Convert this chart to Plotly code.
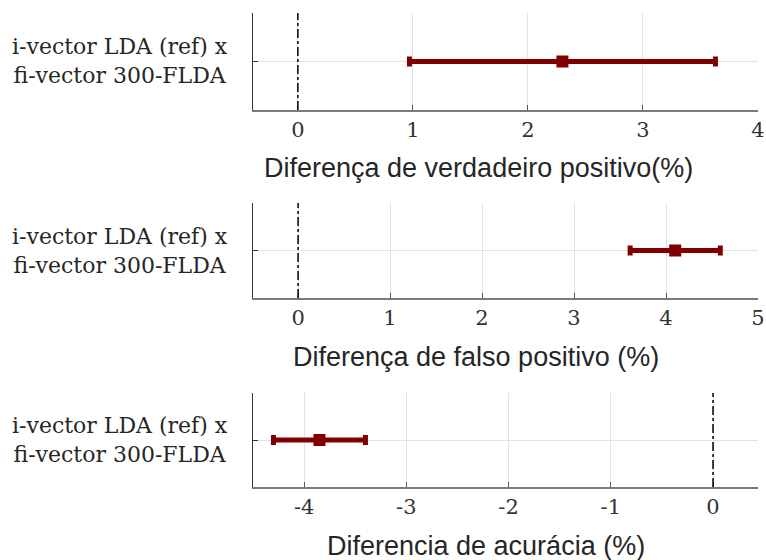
import plotly.graph_objects as go

category = ["i-vector LDA (ref) x<br>fi-vector 300-FLDA"]
titles = ["Diferença de verdadeiro positivo(%)", "Diferença de falso positivo (%)", "Diferencia de acurácia (%)"]
centers = [2.30, 4.10, -3.85]
lows = [0.97, 3.61, -4.30]
highs = [3.63, 4.59, -3.40]
x_ranges = [[-0.39, 4.0], [-0.49, 5.0], [-4.5, 0.44]]
x_ticks = [[0, 1, 2, 3, 4], [0, 1, 2, 3, 4, 5], [-4, -3, -2, -1, 0]]

W, H = 766, 560
x0, x1 = 253 / W, 758 / W
y_doms = [[1 - 110 / H, 1 - 13 / H], [1 - 298 / H, 1 - 203 / H], [1 - 487 / H, 1 - 393 / H]]
title_pos = [(478, 168), (476, 357), (486, 546)]

fig = go.Figure()
red = "#800000"
for i in range(3):
    n = "" if i == 0 else str(i + 1)
    fig.add_trace(go.Scatter(
        x=[centers[i]], y=category, mode="markers",
        marker=dict(symbol="square", size=12, color=red),
        error_x=dict(type="data", symmetric=False,
                     array=[highs[i] - centers[i]], arrayminus=[centers[i] - lows[i]],
                     color=red, thickness=5, width=5),
        xaxis="x" + n, yaxis="y" + n, showlegend=False,
    ))
    xa = dict(domain=[x0, x1], range=x_ranges[i], tickvals=x_ticks[i],
              ticktext=[str(t) for t in x_ticks[i]],
              showgrid=True, gridcolor="#e3e3e3", gridwidth=1,
              zeroline=False, showline=True, linecolor="#7a7a7a", linewidth=1.5,
              ticks="inside", ticklen=5, tickcolor="#555555",
              tickfont=dict(family="DejaVu Serif", size=21, color="#333333"),
              anchor="y" + n, fixedrange=True, automargin=False)
    ya = dict(domain=y_doms[i], showgrid=True, gridcolor="#e3e3e3",
              showline=True, linecolor="#333333", linewidth=1.2,
              ticks="inside", ticklen=5, tickcolor="#333333",
              showticklabels=False, zeroline=False, automargin=False,
              anchor="x" + n, type="category", range=[-1, 1], fixedrange=True)
    fig.layout["xaxis" + n] = xa
    fig.layout["yaxis" + n] = ya
    fig.add_shape(type="line", xref="x" + n, yref="y" + n + " domain",
                  x0=0, x1=0, y0=0, y1=1,
                  line=dict(color="black", width=1.5, dash="dashdot"))
    fig.add_annotation(text=titles[i], xref="paper", yref="paper",
                       x=title_pos[i][0] / W, y=1 - title_pos[i][1] / H,
                       xanchor="center", yanchor="middle", showarrow=False,
                       font=dict(family="Liberation Sans", size=27, color="#262626"))
    yc = (y_doms[i][0] + y_doms[i][1]) / 2
    fig.add_annotation(text=category[0], xref="paper", yref="paper",
                       x=120 / W, y=yc, xanchor="center", yanchor="middle",
                       align="center", showarrow=False,
                       font=dict(family="DejaVu Serif", size=22, color="#262626"))

fig.update_layout(width=W, height=H,
                  margin=dict(l=0, r=0, t=0, b=0, pad=0, autoexpand=False),
                  plot_bgcolor="white", paper_bgcolor="white")
fig.write_html("out.html", config={"displayModeBar": False, "responsive": False})

with open("out.html", "r", encoding="utf-8") as f:
    html = f.read()
html = html.replace("<html>", '<html style="overflow:hidden;margin:0;padding:0">', 1)
html = html.replace("<body>", '<body style="margin:0;padding:0;overflow:hidden">', 1)
with open("out.html", "w", encoding="utf-8") as f:
    f.write(html)
